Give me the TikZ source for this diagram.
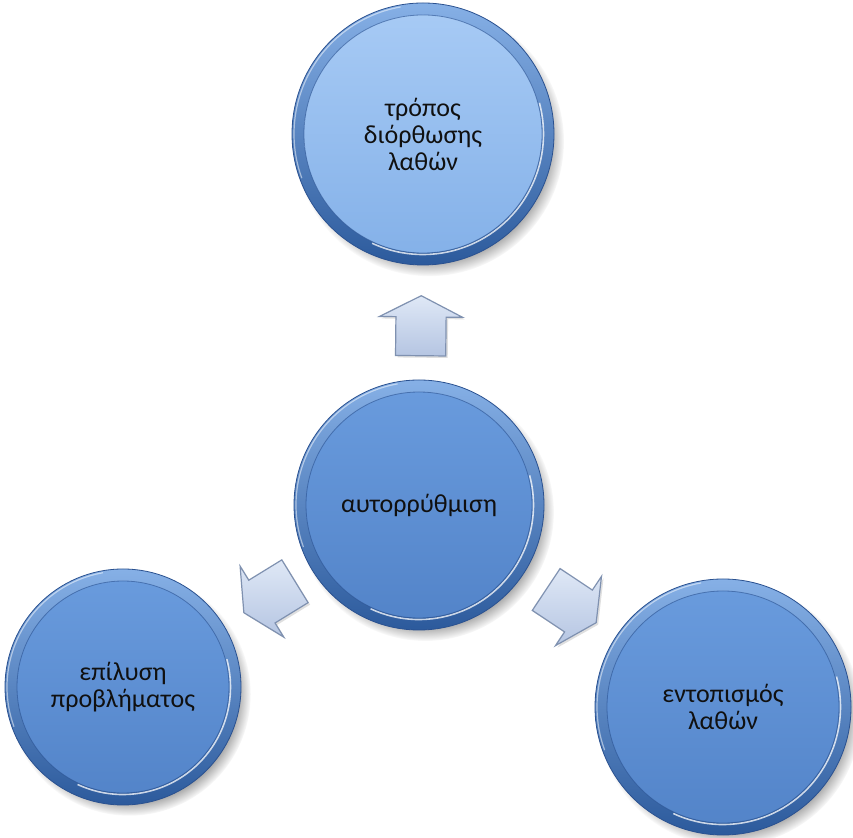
\documentclass[tikz,border=0pt]{standalone}
\usepackage{fontspec}
\newfontfamily\discfont{Carlito}
\usetikzlibrary{shapes.arrows,shadows,fadings}

\definecolor{bodyA}{HTML}{6A9CDE}
\definecolor{bodyB}{HTML}{5283C8}
\definecolor{lightA}{HTML}{A8CBF5}
\definecolor{lightB}{HTML}{83B0E8}
\definecolor{rimA}{HTML}{86B0E6}
\definecolor{rimB}{HTML}{2C5A9C}
\definecolor{rimedge}{HTML}{2A5190}
\definecolor{arrowA}{HTML}{DFE8F6}
\definecolor{arrowB}{HTML}{B5C5E2}
\definecolor{arrowedge}{HTML}{7F91B0}
\definecolor{textgray}{HTML}{101010}

\tikzset{
  disc/.style n args={3}{circle, inner sep=0pt, align=center, minimum size=2*#1,
    font={\discfont\fontsize{26}{27}\selectfont}, text=textgray,
    top color=rimA, bottom color=rimB, draw=rimedge, line width=0.8pt,
    circular drop shadow={shadow xshift=6pt, shadow yshift=-7pt, shadow scale=1.03, opacity=.9},
    path picture={
      \shade[top color=#2, bottom color=#3] (path picture bounding box.center) circle (#1-12pt);
      \draw[white, opacity=.75, line width=1.6pt] (path picture bounding box.center) ++(-115:#1-10.5pt)
        arc[start angle=-115, end angle=15, radius=#1-10.5pt];
      \draw[white, opacity=.5, line width=1.2pt] (path picture bounding box.center) ++(100:#1-2pt)
        arc[start angle=100, end angle=200, radius=#1-2pt];
      \draw[rimedge, opacity=.6, line width=0.8pt] (path picture bounding box.center) circle (#1-12pt);
    }},
  outarrow/.style={single arrow, inner xsep=0pt, inner ysep=24.5pt, minimum height=60pt,
    single arrow head extend=16.5pt, single arrow tip angle=126,
    top color=arrowA, bottom color=arrowB, draw=arrowedge, line width=1.2pt,
    drop shadow={opacity=.25, shadow xshift=2pt, shadow yshift=-2pt},
    sloped, allow upside down},
}

\begin{document}
\begin{tikzpicture}[x=1pt,y=1pt]
  \fill[white] (0,0) rectangle (853,837);
  \useasboundingbox (0,0) rectangle (853,837);

  % circles
  \node[disc={131pt}{lightA}{lightB}] (top) at (423,703) {τρόπος\\διόρθωσης\\λαθών};
  \node[disc={125pt}{bodyA}{bodyB}] (auto) at (419,332) {αυτορρύθμιση};
  \node[disc={118pt}{bodyA}{bodyB}] (left) at (123,150) {επίλυση\\προβλήματος};
  \node[disc={128pt}{bodyA}{bodyB}] (right) at (723,130) {εντοπισμός\\λαθών};

  % arrows out of the centre
  \path (auto.center) -- node[outarrow, pos=.466] (up) {} (top.center);
  \path (auto.center) -- node[outarrow, pos=.487] (downleft) {} (left.center);
  \path (auto.center) -- node[outarrow, pos=.483] (downright) {} (right.center);

\end{tikzpicture}
\end{document}
